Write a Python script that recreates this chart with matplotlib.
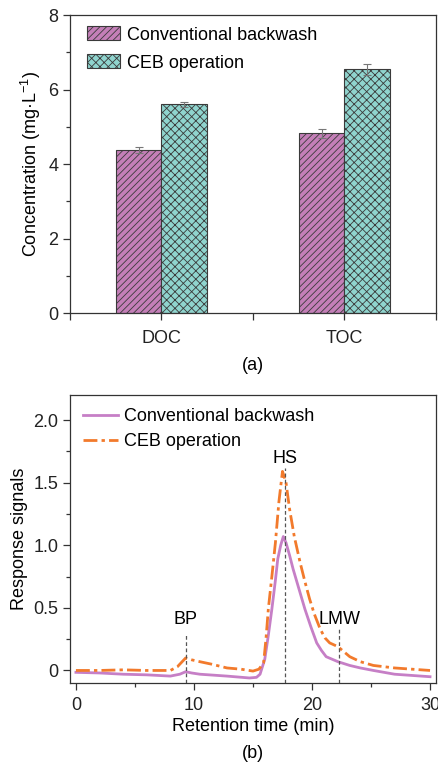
import matplotlib
matplotlib.use('Agg')
import matplotlib.pyplot as plt
from matplotlib.ticker import MultipleLocator, FuncFormatter
import numpy as np

plt.rcParams['font.family'] = ['Liberation Sans', 'DejaVu Sans']
plt.rcParams['mathtext.fontset'] = 'custom'
plt.rcParams['mathtext.rm'] = 'Liberation Sans'
plt.rcParams['mathtext.it'] = 'Liberation Sans:italic'
plt.rcParams['font.size'] = 13
plt.rcParams['hatch.linewidth'] = 0.6
plt.rcParams['axes.edgecolor'] = '#333333'
plt.rcParams['xtick.color'] = '#333333'
plt.rcParams['ytick.color'] = '#333333'
plt.rcParams['xtick.labelcolor'] = '#222222'
plt.rcParams['ytick.labelcolor'] = '#222222'

# (a) 浓度柱状图
groups = ['DOC', 'TOC']
series = ['Conventional backwash', 'CEB operation']
conv_vals = [4.38, 4.82]
conv_err = [0.08, 0.12]
ceb_vals = [5.60, 6.54]
ceb_err = [0.07, 0.14]

# (b) 色谱曲线
t_conv = [0, 2, 4, 6, 8, 8.8, 9.3, 9.8, 10.5, 12.8, 14.7, 15.3, 15.6, 16.0, 16.3,
          16.6, 16.9, 17.1, 17.35, 17.57, 17.8, 18.1, 18.4, 18.9, 19.4, 19.9, 20.4,
          20.8, 21.2, 21.7, 22.2, 23.2, 24.1, 25.2, 27, 30]
v_conv = [-0.015, -0.02, -0.03, -0.035, -0.045, -0.03, -0.01, -0.02, -0.03, -0.045,
          -0.06, -0.055, -0.03, 0.09, 0.28, 0.49, 0.72, 0.89, 1.0, 1.07, 1.02, 0.92,
          0.81, 0.65, 0.49, 0.35, 0.22, 0.16, 0.11, 0.09, 0.07, 0.04, 0.02, 0.0,
          -0.03, -0.05]
t_ceb = [0, 2, 4, 6, 8, 8.6, 9.3, 9.8, 10.5, 11.5, 12.8, 14.0, 15.0, 15.5, 15.9,
         16.1, 16.3, 16.6, 16.9, 17.2, 17.5, 17.8, 18.1, 18.5, 19.0, 19.4, 19.8,
         20.2, 20.7, 21.1, 21.5, 22.2, 23.2, 24.1, 25.2, 27, 30]
v_ceb = [0.0, 0.0, 0.005, 0.0, 0.0, 0.03, 0.10, 0.085, 0.07, 0.05, 0.02, 0.01,
         -0.005, 0.01, 0.06, 0.25, 0.49, 0.75, 1.02, 1.35, 1.59, 1.5, 1.29, 1.07,
         0.86, 0.71, 0.57, 0.45, 0.33, 0.26, 0.22, 0.19, 0.11, 0.07, 0.04, 0.02, 0.0]
peak_names = ['BP', 'HS', 'LMW']
peak_t = [9.3, 17.7, 22.3]
peak_top = [0.29, 1.62, 0.33]
label_y = [0.41, 1.69, 0.41]

fig = plt.figure(figsize=(4.39, 7.62), dpi=100)

# ---------- (a) ----------
ax1 = fig.add_axes([0.1595, 0.5892, 0.8335, 0.3911])
x = np.arange(1, len(groups) + 1)
w = 0.25
b1 = ax1.bar(x - w / 2, conv_vals, width=w, color='#C47FB8', edgecolor='#3a3a3a',
             hatch='/////', linewidth=0.8, label=series[0])
b2 = ax1.bar(x + w / 2, ceb_vals, width=w, color='#8FD4CE', edgecolor='#3a3a3a',
             hatch='xxxx', linewidth=0.8, label=series[1])
ax1.errorbar(x - w / 2, conv_vals, yerr=conv_err, fmt='none', ecolor='#777777',
             elinewidth=0.8, capsize=3, capthick=0.8)
ax1.errorbar(x + w / 2, ceb_vals, yerr=ceb_err, fmt='none', ecolor='#777777',
             elinewidth=0.8, capsize=3, capthick=0.8)
ax1.set_xlim(0.5, 2.5)
ax1.set_ylim(0, 8)
ax1.set_xticks([0.5, 1, 1.5, 2, 2.5])
ax1.set_xticklabels(['', 'DOC', '', 'TOC', ''])
ax1.yaxis.set_major_locator(MultipleLocator(2))
ax1.yaxis.set_minor_locator(MultipleLocator(1))
ax1.tick_params(axis='both', which='major', direction='out', length=5, width=0.9)
ax1.tick_params(axis='both', which='minor', direction='out', length=3, width=0.9)
ax1.tick_params(axis='x', pad=7)
ax1.set_ylabel('Concentration (mg·L$^{-1}$)', labelpad=4)
for s in ax1.spines.values():
    s.set_linewidth(0.9)
ax1.legend(handles=[b1, b2], loc='upper left', bbox_to_anchor=(0.046, 0.962),
           frameon=False, borderpad=0, borderaxespad=0, handlelength=1.85,
           handleheight=0.8, handletextpad=0.35, labelspacing=0.6, fontsize=13)
fig.text(0.577, 1 - 365 / 762, '(a)', ha='center', va='center', fontsize=13)

# ---------- (b) ----------
ax2 = fig.add_axes([0.1595, 0.1037, 0.8335, 0.3779])
l1, = ax2.plot(t_conv, v_conv, color='#C67FC6', lw=2, label=series[0])
l2, = ax2.plot(t_ceb, v_ceb, color='#F27A2C', lw=2,
               linestyle=(0, (5, 1.5, 1.2, 1.5)), label=series[1])
for name, t, top, ly in zip(peak_names, peak_t, peak_top, label_y):
    ax2.plot([t, t], [-0.1, top], color='#555555', lw=0.9, linestyle=(0, (3, 2)))
    ax2.text(t, ly, name, ha='center', va='center', fontsize=13)
ax2.set_xlim(-0.5, 30.5)
ax2.set_ylim(-0.1, 2.2)
ax2.xaxis.set_major_locator(MultipleLocator(10))
ax2.xaxis.set_minor_locator(MultipleLocator(5))
ax2.yaxis.set_major_locator(MultipleLocator(0.5))
ax2.yaxis.set_minor_locator(MultipleLocator(0.25))
ax2.yaxis.set_major_formatter(FuncFormatter(lambda v, p: '0' if abs(v) < 1e-9 else '%.1f' % v))
ax2.tick_params(axis='both', which='major', direction='out', length=5, width=0.9)
ax2.tick_params(axis='both', which='minor', direction='out', length=3, width=0.9)
ax2.tick_params(axis='x', pad=5)
ax2.set_xlabel('Retention time (min)', labelpad=3)
ax2.set_ylabel('Response signals', labelpad=4)
for s in ax2.spines.values():
    s.set_linewidth(0.9)
ax2.legend(handles=[l1, l2], loc='upper left', bbox_to_anchor=(0.036, 0.955),
           frameon=False, borderpad=0, borderaxespad=0, handlelength=1.95,
           handletextpad=0.3, labelspacing=0.45, fontsize=13)
fig.text(0.577, 1 - 753 / 762, '(b)', ha='center', va='center', fontsize=13)

fig.savefig('out.png', dpi=100)
